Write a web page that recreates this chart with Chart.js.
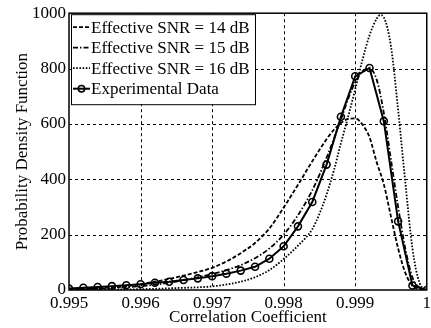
<!DOCTYPE html>
<html>
<head>
<meta charset="utf-8">
<script src="https://cdn.jsdelivr.net/npm/chart.js@4/dist/chart.umd.min.js"></script>
<style>
  html, body { margin:0; padding:0; background:#fff; overflow:hidden; }
  #wrap { position:absolute; left:0; top:0; width:434px; height:328px; }
</style>
</head>
<body>
<div id="wrap"><canvas id="pdf"></canvas></div>
<script>
// ── data ──────────────────────────────────────────────
var seriesLabels = ['Effective SNR = 14 dB', 'Effective SNR = 15 dB', 'Effective SNR = 16 dB', 'Experimental Data'];

var x14 = [0.9950,0.9952,0.9954,0.9956,0.9958,0.9960,0.9962,0.9964,0.9966,0.9968,0.9970,0.9972,0.9974,0.9976,0.9978,0.9980,0.9982,0.9984,0.9986,0.9987,0.9988,0.9989,0.9990,0.9991,0.9992,0.9993,0.9994,0.9995,0.9996,0.9997,0.9998,0.9999,1.0000];
var y14 = [3,4,6,9,13,21,30,40,52,65,80,103,133,170,222,298,380,465,545,578,603,618,620,598,552,462,382,265,150,62,16,3,0];

var x15 = [0.9950,0.9952,0.9954,0.9956,0.9958,0.9960,0.9962,0.9964,0.9966,0.9968,0.9970,0.9972,0.9974,0.9976,0.9978,0.9980,0.9982,0.9984,0.9986,0.9988,0.9989,0.9990,0.9991,0.9992,0.9993,0.9994,0.9995,0.9996,0.9997,0.9998,0.9999,1.0000];
var y15 = [2,3,5,7,10,14,19,26,35,46,58,72,90,115,150,200,270,360,478,615,690,750,790,800,760,640,470,300,150,45,8,0];

var x16 = [0.9950,0.9955,0.9960,0.9965,0.9970,0.9972,0.9974,0.9976,0.9978,0.9980,0.9982,0.9984,0.9985,0.9986,0.9987,0.9988,0.9989,0.9990,0.9991,0.9992,0.9993,0.99935,0.9994,0.9995,0.9996,0.9997,0.9998,0.9999,1.0000];
var y16 = [0,1,3,7,13,20,30,46,72,112,160,220,275,345,430,530,625,725,830,920,980,993,985,880,650,390,150,25,0];

var xExp = [0.9950,0.9952,0.9954,0.9956,0.9958,0.9960,0.9962,0.9964,0.9966,0.9968,0.9970,0.9972,0.9974,0.9976,0.9978,0.9980,0.9982,0.9984,0.9986,0.9988,0.9990,0.9992,0.9994,0.9996,0.9998,1.0000];
var yExp = [5,8,11,14,17,21,26,30,36,42,50,59,70,84,113,158,230,318,453,626,772,802,610,248,16,0];

var xTicks = [0.995,0.996,0.997,0.998,0.999,1];
var yTicks = [0,200,400,600,800,1000];

function pts(xs, ys){
  return xs.map(function(x, i){ return { x:x, y:ys[i] }; });
}

var FONT = { family:'"Liberation Serif", "Times New Roman", serif', size:17 };

// legend drawn inside the plot box, top-left, like the original figure
var boxLegend = {
  id:'boxLegend',
  afterDraw: function(chart){
    var ctx = chart.ctx, a = chart.chartArea;
    var x0 = a.left + 2, y0 = a.top + 1, w = 184, rowH = 20.5;
    var sets = chart.data.datasets;
    ctx.save();
    ctx.fillStyle = '#fff';
    ctx.fillRect(x0, y0, w, 8 + rowH * sets.length);
    ctx.strokeStyle = '#000'; ctx.lineWidth = 1;
    ctx.strokeRect(x0 + 0.5, y0 + 0.5, w, 8 + rowH * sets.length);
    ctx.font = FONT.size + 'px ' + FONT.family;
    ctx.textBaseline = 'middle';
    ctx.fillStyle = '#000';
    sets.forEach(function(ds, i){
      var cy = y0 + 13 + rowH * i;
      ctx.beginPath();
      ctx.setLineDash(ds.borderDash || []);
      ctx.lineWidth = ds.borderWidth;
      ctx.moveTo(x0 + 2, cy); ctx.lineTo(x0 + 19, cy);
      ctx.stroke();
      ctx.setLineDash([]);
      if(ds.pointRadius){
        ctx.beginPath(); ctx.lineWidth = 1.5;
        ctx.arc(x0 + 10.5, cy, 3.2, 0, Math.PI * 2); ctx.stroke();
      }
      ctx.fillText(ds.label, x0 + 20, cy + 1);
    });
    ctx.restore();
  }
};

// dashed grid + solid box, drawn under the curves
var gridBox = {
  id:'gridBox',
  beforeDatasetsDraw: function(chart){
    var ctx = chart.ctx, a = chart.chartArea;
    var xs = chart.scales.x, ys = chart.scales.y;
    ctx.save();
    ctx.strokeStyle = '#000'; ctx.lineWidth = 1;
    ctx.setLineDash([3, 3]);
    xTicks.slice(1, -1).forEach(function(v){
      var px = Math.round(xs.getPixelForValue(v)) + 0.5;
      ctx.beginPath(); ctx.moveTo(px, a.top); ctx.lineTo(px, a.bottom); ctx.stroke();
    });
    yTicks.slice(1, -1).forEach(function(v){
      var py = Math.round(ys.getPixelForValue(v)) + 0.5;
      ctx.beginPath(); ctx.moveTo(a.left, py); ctx.lineTo(a.right, py); ctx.stroke();
    });
    ctx.restore();
  },
  afterDatasetsDraw: function(chart){
    var ctx = chart.ctx, a = chart.chartArea;
    ctx.save();
    ctx.strokeStyle = '#000'; ctx.lineWidth = 1.5;
    ctx.strokeRect(a.left, a.top, a.right - a.left, a.bottom - a.top);
    ctx.restore();
  }
};

new Chart(document.getElementById('pdf'), {
  type:'scatter',
  data:{
    datasets:[
      { label:seriesLabels[0], data:pts(x14, y14), showLine:true, borderColor:'#000', borderWidth:1.8, borderDash:[4,2], pointRadius:0, cubicInterpolationMode:'monotone' },
      { label:seriesLabels[1], data:pts(x15, y15), showLine:true, borderColor:'#000', borderWidth:1.8, borderDash:[5,2,1.5,2], pointRadius:0, cubicInterpolationMode:'monotone' },
      { label:seriesLabels[2], data:pts(x16, y16), showLine:true, borderColor:'#000', borderWidth:1.8, borderDash:[1.6,1.6], pointRadius:0, cubicInterpolationMode:'monotone' },
      { label:seriesLabels[3], data:pts(xExp, yExp), showLine:true, borderColor:'#000', borderWidth:2, pointRadius:3.5, pointBorderWidth:1.6, pointBorderColor:'#000', pointBackgroundColor:'rgba(0,0,0,0)', tension:0 }
    ]
  },
  options:{
    responsive:true, maintainAspectRatio:false, animation:false,
    layout:{ padding:{ top:12, left:0, right:0, bottom:0 } },
    plugins:{ legend:{ display:false }, tooltip:{ enabled:false } },
    scales:{
      x:{
        type:'linear', min:0.995, max:1,
        afterBuildTicks: function(s){ s.ticks = xTicks.map(function(v){ return { value:v }; }); },
        afterFit: function(s){ s.height = 38; },
        ticks:{ color:'#000', font:FONT, padding:3, maxRotation:0,
          callback: function(v){ return v === 1 ? '1' : v.toFixed(3); } },
        grid:{ display:false, drawTicks:false },
        border:{ display:false },
        title:{ display:true, text:'Correlation Coefficient', color:'#000', font:FONT, padding:{ top:0, bottom:0 } }
      },
      y:{
        min:0, max:1000,
        afterBuildTicks: function(s){ s.ticks = yTicks.map(function(v){ return { value:v }; }); },
        afterFit: function(s){ s.width = 69; },
        ticks:{ color:'#000', font:FONT, padding:3, callback: function(v){ return String(v); } },
        grid:{ display:false, drawTicks:false },
        border:{ display:false },
        title:{ display:true, text:'Probability Density Function', color:'#000', font:FONT, padding:{ top:12, bottom:0 } }
      }
    }
  },
  plugins:[gridBox, boxLegend]
});
</script>
</body>
</html>
